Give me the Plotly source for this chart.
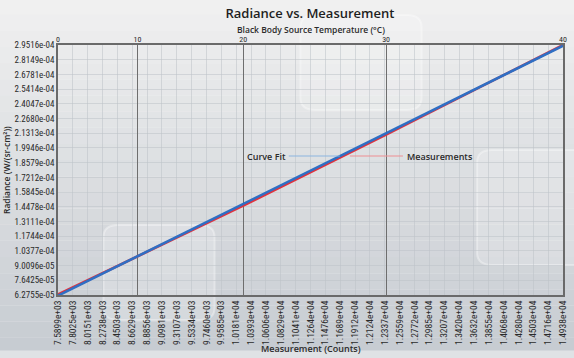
import plotly.graph_objects as go

# ---- data ----
count_ticks = ["7.5899e+03", "7.8025e+03", "8.0151e+03", "8.2738e+03", "8.4503e+03",
               "8.6629e+03", "8.8856e+03", "9.0981e+03", "9.3107e+03", "9.5334e+03",
               "9.7460e+03", "9.9585e+03", "1.0181e+04", "1.0393e+04", "1.0606e+04",
               "1.0829e+04", "1.1041e+04", "1.1264e+04", "1.1476e+04", "1.1689e+04",
               "1.1912e+04", "1.2124e+04", "1.2337e+04", "1.2559e+04", "1.2772e+04",
               "1.2985e+04", "1.3207e+04", "1.3420e+04", "1.3632e+04", "1.3855e+04",
               "1.4068e+04", "1.4280e+04", "1.4503e+04", "1.4716e+04", "1.4938e+04"]
radiance_ticks = ["6.2755e-05", "7.6425e-05", "9.0096e-05", "1.0377e-04", "1.1744e-04",
                  "1.3111e-04", "1.4478e-04", "1.5845e-04", "1.7212e-04", "1.8579e-04",
                  "1.9946e-04", "2.1313e-04", "2.2680e-04", "2.4047e-04", "2.5414e-04",
                  "2.6781e-04", "2.8149e-04", "2.9516e-04"]
temp_ticks = ["0", "10", "20", "30", "40"]
temp_counts = [7589.9, 8745, 10285, 12364, 14938]

meas_counts = [7589.9, 8745, 10285, 12364, 14938]
meas_radiance = [6.32e-05, 9.84e-05, 1.458e-04, 2.118e-04, 2.9516e-04]
fit_counts = [7589.9, 14938]
fit_radiance = [6.22e-05, 2.945e-04]

x_min, x_max = 7589.9, 14938
y_min, y_max = 6.2755e-05, 2.9516e-04
n_x = len(count_ticks)
x_tickvals = [x_min + i * (x_max - x_min) / (n_x - 1) for i in range(n_x)]
n_y = len(radiance_ticks)
y_tickvals = [y_min + i * (y_max - y_min) / (n_y - 1) for i in range(n_y)]

FONT = "Open Sans"
NARROW = "Liberation Sans Narrow, Arial Narrow, Roboto Condensed, sans-serif"
TXT = "#2b2b2b"

fig = go.Figure()
fig.add_trace(go.Scatter(x=meas_counts, y=meas_radiance, mode="lines",
                         line=dict(color="#e3323c", width=2.6), name="Measurements",
                         showlegend=False))
fig.add_trace(go.Scatter(x=fit_counts, y=fit_radiance, mode="lines",
                         line=dict(color="#2f6fc4", width=2.6), name="Curve Fit",
                         showlegend=False))
# invisible trace to activate top axis
fig.add_trace(go.Scatter(x=[x_min, x_max], y=[y_min, y_min], xaxis="x2", mode="lines",
                         line=dict(width=0), hoverinfo="skip", showlegend=False))

# background gradient
shapes = []
n_bands = 24
top_col = (242, 242, 242)
bot_col = (198, 203, 209)
for i in range(n_bands):
    t = i / (n_bands - 1)
    c = tuple(int(top_col[k] + (bot_col[k] - top_col[k]) * t) for k in range(3))
    shapes.append(dict(type="rect", xref="paper", yref="paper", layer="below",
                       x0=-0.2, x1=1.1, y0=1.25 - (i + 1) * (1.55 / n_bands),
                       y1=1.25 - i * (1.55 / n_bands),
                       fillcolor="rgb(%d,%d,%d)" % c, line=dict(width=0)))
shapes.append(dict(type="rect", xref="paper", yref="paper", layer="below",
                   x0=-0.2, x1=1.1, y0=-0.3, y1=-0.222,
                   fillcolor="#dfe2e5", line=dict(width=0)))
# decorative rounded boxes
def rbox(x0, y0, x1, y1, r, col):
    return dict(type="path", xref="paper", yref="paper", layer="below",
                path=(f"M {x0+r} {y0} L {x1-r} {y0} Q {x1} {y0} {x1} {y0+r*1.6} "
                      f"L {x1} {y1-r*1.6} Q {x1} {y1} {x1-r} {y1} L {x0+r} {y1} "
                      f"Q {x0} {y1} {x0} {y1-r*1.6} L {x0} {y0+r*1.6} Q {x0} {y0} {x0+r} {y0} Z"),
                fillcolor=col, line=dict(color="rgba(255,255,255,0.35)", width=2))
shapes.append(rbox(0.09, -0.1, 0.31, 0.28, 0.03, "rgba(255,255,255,0.2)"))
shapes.append(rbox(0.48, 0.74, 0.72, 1.12, 0.03, "rgba(255,255,255,0.2)"))
shapes.append(rbox(0.83, 0.12, 1.05, 0.58, 0.03, "rgba(255,255,255,0.18)"))

# leader lines
shapes.append(dict(type="line", xref="paper", yref="paper", x0=0.457, x1=0.558,
                   y0=0.556, y1=0.556, line=dict(color="#8bb6e0", width=1.2)))
shapes.append(dict(type="line", xref="paper", yref="paper", x0=0.578, x1=0.683,
                   y0=0.556, y1=0.556, line=dict(color="#ee8f93", width=1.2)))

annotations = [
    dict(text="Curve Fit", xref="paper", yref="paper", x=0.455, y=0.556,
         xanchor="right", yanchor="middle", showarrow=False,
         font=dict(family=FONT, size=9, color=TXT, weight=600)),
    dict(text="Measurements", xref="paper", yref="paper", x=0.688, y=0.556,
         xanchor="left", yanchor="middle", showarrow=False,
         font=dict(family=FONT, size=9, color=TXT, weight=600)),
    dict(text="Radiance (W/(sr-cm²))", xref="paper", yref="paper", x=-0.103, y=0.5,
         xanchor="center", yanchor="middle", textangle=-90, showarrow=False,
         font=dict(family=FONT, size=8.5, color=TXT, weight=600)),
    dict(text="Black Body Source Temperature (°C)", xref="paper", yref="paper",
         x=0.5, y=1.062, xanchor="center", yanchor="middle", showarrow=False,
         font=dict(family=FONT, size=8.5, color=TXT, weight=600)),
    dict(text="Measurement (Counts)", xref="paper", yref="paper",
         x=0.5, y=-0.212, xanchor="center", yanchor="middle", showarrow=False,
         font=dict(family=FONT, size=9, color=TXT, weight=600)),
]

fig.update_layout(
    width=574, height=358,
    margin=dict(l=58, r=11, t=45, b=63),
    paper_bgcolor="#e9eaeb",
    plot_bgcolor="rgba(250,251,252,0.55)",
    title=dict(text="Radiance vs. Measurement", x=0.54, xanchor="center", y=0.962,
               yanchor="middle", font=dict(family=FONT, size=13, color="#1e1e1e", weight=600)),
    shapes=shapes,
    annotations=annotations,
    xaxis=dict(range=[x_min, x_max], tickmode="array", tickvals=x_tickvals,
               ticktext=count_ticks, tickangle=-90, automargin=False,
               tickfont=dict(family=NARROW, size=9.5, color=TXT),
               showgrid=True, gridcolor="rgba(190,195,200,0.55)", gridwidth=1,
               showline=True, linecolor="#6a6a6a", linewidth=1.5, mirror=True,
               ticks="", zeroline=False),
    xaxis2=dict(range=[x_min, x_max], overlaying="x", side="top", tickmode="array",
                tickvals=temp_counts, ticktext=temp_ticks, automargin=False,
                tickfont=dict(family=NARROW, size=8, color=TXT),
                showgrid=True, gridcolor="#6e6e6e", gridwidth=1, ticks="",
                zeroline=False),
    yaxis=dict(range=[y_min, y_max], tickmode="array", tickvals=y_tickvals,
               ticktext=radiance_ticks, automargin=False,
               tickfont=dict(family=NARROW, size=9, color=TXT),
               showgrid=True, gridcolor="rgba(190,195,200,0.55)", gridwidth=1,
               showline=True, linecolor="#6a6a6a", linewidth=1.5, mirror=True,
               ticks="", zeroline=False),
)

fig.write_html("out.html", config={"displayModeBar": False},
               post_script="document.body.style.margin='0';document.body.style.padding='0';")
